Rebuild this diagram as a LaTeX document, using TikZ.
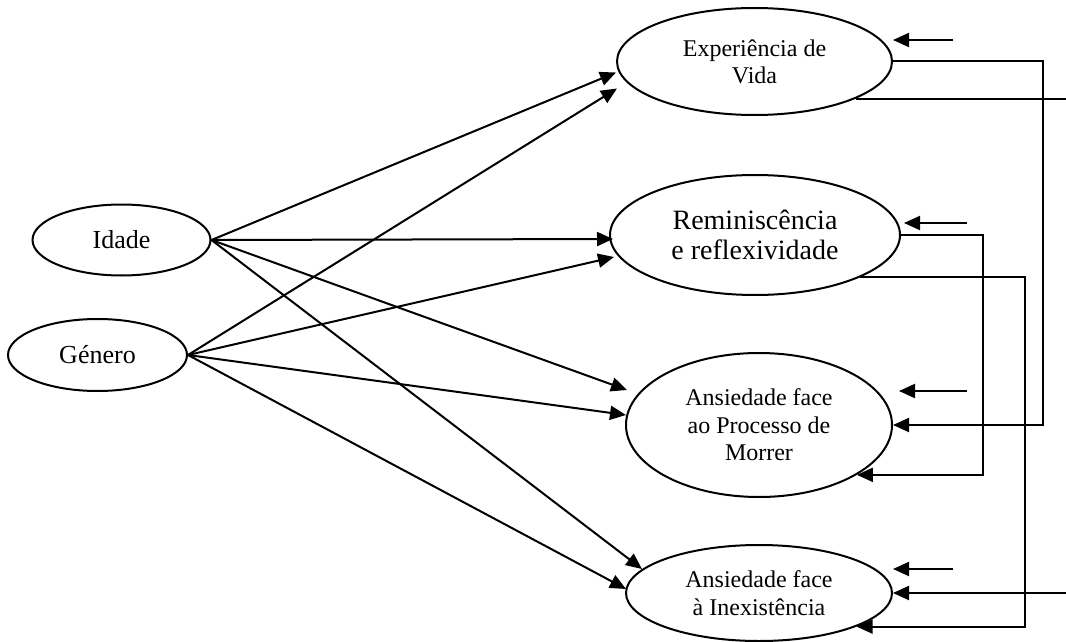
\documentclass[tikz,border=0pt]{standalone}
\usepackage{fontspec}
\setmainfont{Liberation Serif}
\usetikzlibrary{shapes.geometric, arrows.meta, calc}

\begin{document}
\begin{tikzpicture}[x=0.5pt, y=-0.5pt,
  var/.style={draw, ellipse, line width=1pt, inner sep=0pt, align=center},
  link/.style={-{Triangle[length=8pt, width=7pt]}, line width=1pt}]
\useasboundingbox (0,0) rectangle (1066,642);
\clip (0,-2) rectangle (1066,644);

% exogenous variables
\node[var, minimum width=89pt, minimum height=35.5pt, font=\fontsize{13}{15}\selectfont] (idade) at (121.5,240) {Idade};
\node[var, minimum width=89.5pt, minimum height=36pt, font=\fontsize{13}{15}\selectfont] (genero) at (97.5,355) {Género};

% endogenous variables
\node[var, minimum width=137.5pt, minimum height=53.5pt, font=\fontsize{12}{13.5}\selectfont] (exp) at (754.5,61.5) {Experiência de\\Vida};
\node[var, minimum width=145pt, minimum height=60pt, font=\fontsize{14}{15}\selectfont] (remi) at (755,235) {Reminiscência\\e reflexividade};
\node[var, minimum width=133pt, minimum height=72pt, font=\fontsize{12}{13.75}\selectfont] (morrer) at (759,425) {Ansiedade face\\ao Processo de\\Morrer};
\node[var, minimum width=133pt, minimum height=48pt, font=\fontsize{12}{14}\selectfont] (inex) at (759,593) {Ansiedade face\\à Inexistência};

% Idade
\draw[link] (idade.east) -- ([yshift=-5.5pt]exp.west);
\draw[link] (idade.east) -- ([shift={(2pt,-2pt)}]remi.west);
\draw[link] (idade.east) -- ([shift={(1pt,17.5pt)}]morrer.west);
\draw[link] (idade.east) -- ([shift={(8.5pt,12pt)}]inex.west);

% Genero
\draw[link] (genero.east) -- ([shift={(0.5pt,-13.5pt)}]exp.west);
\draw[link] (genero.east) -- ([shift={(2.5pt,-11pt)}]remi.west);
\draw[link] (genero.east) -- ([shift={(0.5pt,5pt)}]morrer.west);
\draw[link] (genero.east) -- ([shift={(0.5pt,2pt)}]inex.west);

% between endogenous variables
\draw[link] (exp.east) -| ($(morrer.east)+(150,0)$) -- (morrer.east);
\draw[link] (exp.-20) -| ($(inex.east)+(183,0)$) -- (inex.east);
\draw[link] (remi.east) -| ($(morrer.-27)+(126,0)$) -- (morrer.-27);
\draw[link] (remi.-22) -| ($(inex.-19)+(168,0)$) -- (inex.-19);

% residuals
\coordinate (u1) at (953,40);
\coordinate (u2) at (967,223);
\coordinate (u3) at (967,391);
\coordinate (u4) at (953,569);
\draw[link] (u1) -- (u1 -| exp.east);
\draw[link] (u2) -- ++(-63,0);
\draw[link] (u3) -- ++(-68,0);
\draw[link] (u4) -- (u4 -| inex.east);
\end{tikzpicture}
\end{document}
